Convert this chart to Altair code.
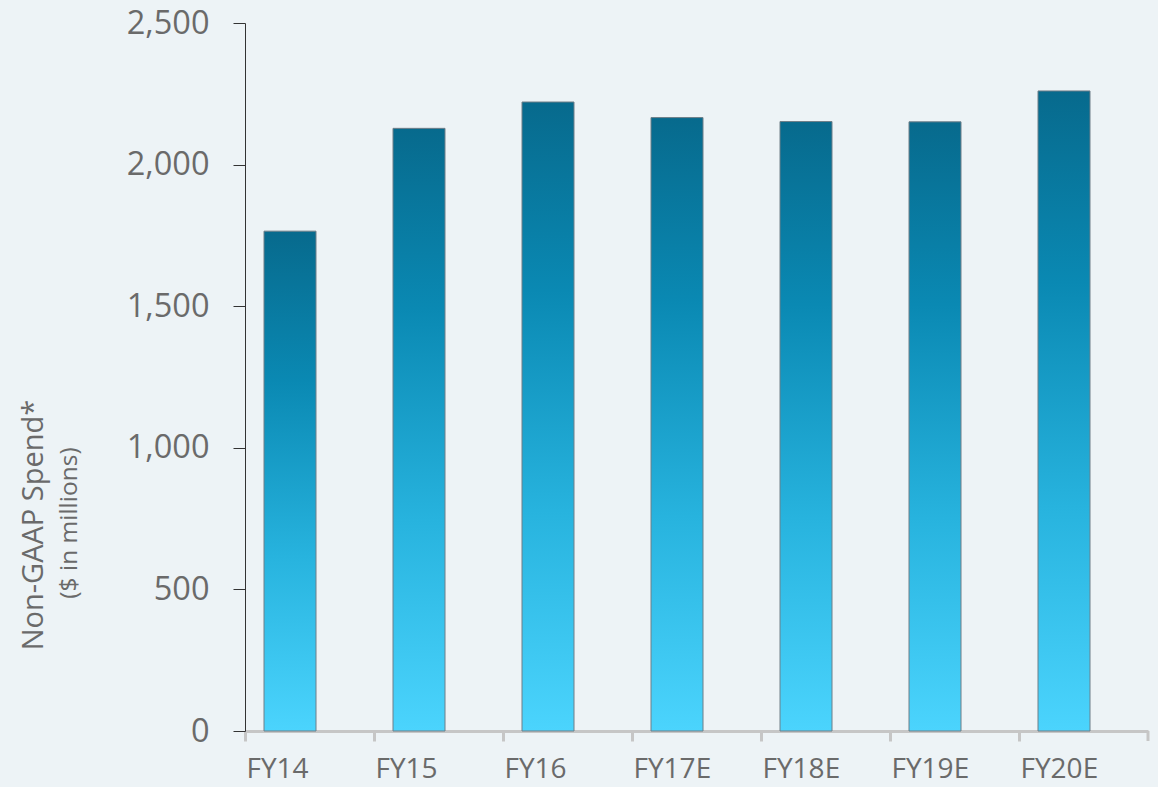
import altair as alt
import pandas as pd

categories = ["FY14", "FY15", "FY16", "FY17E", "FY18E", "FY19E", "FY20E"]
values = [1765, 2128, 2221, 2166, 2152, 2151, 2260]
y_ticks = [0, 500, 1000, 1500, 2000, 2500]

df = pd.DataFrame({"year": categories, "spend": values})

W, H = 903, 708
FONT = "Open Sans"
LABEL = "#6a6a6a"

grad = alt.Gradient(
    gradient="linear",
    stops=[
        alt.GradientStop(color="#076a8d", offset=0),
        alt.GradientStop(color="#0a89b3", offset=0.3),
        alt.GradientStop(color="#27b3de", offset=0.65),
        alt.GradientStop(color="#4bd4fd", offset=1),
    ],
    x1=0, x2=0, y1=0, y2=1,
)

bars = alt.Chart(df).mark_bar(
    color=grad, size=52, xOffset=-19.5, stroke="#6e7e88", strokeWidth=1
).encode(
    x=alt.X("year:N", sort=categories, title=None,
            scale=alt.Scale(paddingInner=0, paddingOuter=0),
            axis=alt.Axis(bandPosition=0, labelAlign="left", labelAngle=0,
                          labelOffset=-63,
                          labelFont=FONT, labelFontSize=28, labelColor=LABEL,
                          labelPadding=14, labelBaseline="top",
                          domainColor="#c6c6c6", domainWidth=3,
                          tickColor="#c6c6c6", tickWidth=3, tickSize=10)),
    y=alt.Y("spend:Q", title=None,
            scale=alt.Scale(domain=[0, 2500], nice=False),
            axis=alt.Axis(values=y_ticks, format=",.0f", grid=False,
                          labelFont=FONT, labelFontSize=32.5, labelColor=LABEL,
                          labelPadding=24, domainColor="#333333",
                          tickColor="#333333", tickSize=12)),
)

one = pd.DataFrame({"a": [0]})
end_tick = alt.Chart(one).mark_rule(color="#c6c6c6", strokeWidth=3).encode(
    x=alt.value(W), y=alt.value(H), y2=alt.value(H + 10)
)

title_main = alt.Chart(one).mark_text(
    text="Non-GAAP Spend*", angle=270, font=FONT, fontSize=29, color=LABEL,
    align="center", baseline="middle"
).encode(x=alt.value(-211), y=alt.value(502))

title_sub = alt.Chart(one).mark_text(
    text="($ in millions)", angle=270, font=FONT, fontSize=24.5, color=LABEL,
    align="center", baseline="middle"
).encode(x=alt.value(-175), y=alt.value(500))

chart = alt.layer(bars, end_tick, title_main, title_sub).properties(
    width=W, height=H,
    background="#edf3f6",
    padding={"left": 245, "top": 23, "right": 10, "bottom": 56},
    autosize=alt.AutoSizeParams(type="none"),
).configure_view(stroke=None)

chart.save("out.html", embed_options={"renderer": "svg", "actions": False})
